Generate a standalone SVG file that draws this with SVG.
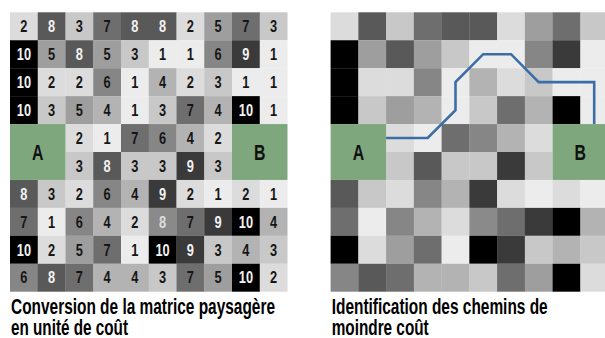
<svg xmlns="http://www.w3.org/2000/svg" xmlns:xlink="http://www.w3.org/1999/xlink" width="605" height="338" viewBox="0 0 605 338">
<style>
.c1{fill:#ececec}.c2{fill:#dcdcdc}.c3{fill:#c8c8c8}.c4{fill:#b3b3b3}.c5{fill:#9e9e9e}
.c6{fill:#868686}.c7{fill:#6e6e6e}.c8{fill:#595959}.c9{fill:#3a3a3a}.c10{fill:#000}.cx{fill:#8a8a8a}
.g{fill:#7ea77e}
text{font-family:"Liberation Sans",Arial,sans-serif;font-weight:bold}
.n,.w,.lw,.lab{text-anchor:middle;transform-box:fill-box;transform-origin:center;transform:scaleX(0.8)}
.n,.w,.lw{font-size:16px}
.n{fill:#161616}.w{fill:#f2f2f2}.lw{fill:#dedede}
.lab{font-size:22px;fill:#111;transform:scaleX(0.72)}
.cap{font-size:22px;fill:#000}
.path{fill:none;stroke:#3b6ea5;stroke-width:2.6;stroke-linejoin:miter}
</style>
<rect width="605" height="338" fill="#fff"/>
<g id="leftCells">
<g transform="translate(10,12.3)">
<!-- row 0 -->
<rect class="c2" x="0" y="0" width="28" height="28"/><rect class="c8" x="27.75" y="0" width="28" height="28"/><rect class="c3" x="55.5" y="0" width="28" height="28"/><rect class="c7" x="83.25" y="0" width="28" height="28"/><rect class="c8" x="111" y="0" width="28" height="28"/><rect class="c8" x="138.75" y="0" width="28" height="28"/><rect class="c2" x="166.5" y="0" width="28" height="28"/><rect class="c5" x="194.25" y="0" width="28" height="28"/><rect class="c7" x="222" y="0" width="28" height="28"/><rect class="c3" x="249.75" y="0" width="27.75" height="28"/>
<!-- row 1 -->
<rect class="c10" x="0" y="27.94" width="28" height="28"/><rect class="c5" x="27.75" y="27.94" width="28" height="28"/><rect class="c8" x="55.5" y="27.94" width="28" height="28"/><rect class="c5" x="83.25" y="27.94" width="28" height="28"/><rect class="c3" x="111" y="27.94" width="28" height="28"/><rect class="c1" x="138.75" y="27.94" width="28" height="28"/><rect class="c1" x="166.5" y="27.94" width="28" height="28"/><rect class="c6" x="194.25" y="27.94" width="28" height="28"/><rect class="c9" x="222" y="27.94" width="28" height="28"/><rect class="c1" x="249.75" y="27.94" width="27.75" height="28"/>
<!-- row 2 -->
<rect class="c10" x="0" y="55.88" width="28" height="28"/><rect class="c2" x="27.75" y="55.88" width="28" height="28"/><rect class="c2" x="55.5" y="55.88" width="28" height="28"/><rect class="c6" x="83.25" y="55.88" width="28" height="28"/><rect class="c1" x="111" y="55.88" width="28" height="28"/><rect class="c4" x="138.75" y="55.88" width="28" height="28"/><rect class="c2" x="166.5" y="55.88" width="28" height="28"/><rect class="c3" x="194.25" y="55.88" width="28" height="28"/><rect class="c1" x="222" y="55.88" width="28" height="28"/><rect class="c1" x="249.75" y="55.88" width="27.75" height="28"/>
<!-- row 3 -->
<rect class="c10" x="0" y="83.82" width="28" height="28"/><rect class="c3" x="27.75" y="83.82" width="28" height="28"/><rect class="c5" x="55.5" y="83.82" width="28" height="28"/><rect class="c4" x="83.25" y="83.82" width="28" height="28"/><rect class="c1" x="111" y="83.82" width="28" height="28"/><rect class="c3" x="138.75" y="83.82" width="28" height="28"/><rect class="c7" x="166.5" y="83.82" width="28" height="28"/><rect class="c4" x="194.25" y="83.82" width="28" height="28"/><rect class="c10" x="222" y="83.82" width="28" height="28"/><rect class="c1" x="249.75" y="83.82" width="27.75" height="28"/>
<!-- row 4 -->
<rect class="c2" x="55.5" y="111.76" width="28" height="28"/><rect class="c1" x="83.25" y="111.76" width="28" height="28"/><rect class="c7" x="111" y="111.76" width="28" height="28"/><rect class="c6" x="138.75" y="111.76" width="28" height="28"/><rect class="c4" x="166.5" y="111.76" width="28" height="28"/><rect class="c2" x="194.25" y="111.76" width="27.75" height="28"/>
<!-- row 5 -->
<rect class="c3" x="55.5" y="139.7" width="28" height="28"/><rect class="c8" x="83.25" y="139.7" width="28" height="28"/><rect class="c3" x="111" y="139.7" width="28" height="28"/><rect class="c3" x="138.75" y="139.7" width="28" height="28"/><rect class="c9" x="166.5" y="139.7" width="28" height="28"/><rect class="c3" x="194.25" y="139.7" width="27.75" height="28"/>
<!-- row 6 -->
<rect class="c8" x="0" y="167.64" width="28" height="28"/><rect class="c3" x="27.75" y="167.64" width="28" height="28"/><rect class="c2" x="55.5" y="167.64" width="28" height="28"/><rect class="c6" x="83.25" y="167.64" width="28" height="28"/><rect class="c4" x="111" y="167.64" width="28" height="28"/><rect class="c9" x="138.75" y="167.64" width="28" height="28"/><rect class="c2" x="166.5" y="167.64" width="28" height="28"/><rect class="c1" x="194.25" y="167.64" width="28" height="28"/><rect class="c2" x="222" y="167.64" width="28" height="28"/><rect class="c1" x="249.75" y="167.64" width="27.75" height="28"/>
<!-- row 7 -->
<rect class="c7" x="0" y="195.58" width="28" height="28"/><rect class="c1" x="27.75" y="195.58" width="28" height="28"/><rect class="c6" x="55.5" y="195.58" width="28" height="28"/><rect class="c4" x="83.25" y="195.58" width="28" height="28"/><rect class="c2" x="111" y="195.58" width="28" height="28"/><rect class="cx" x="138.75" y="195.58" width="28" height="28"/><rect class="c7" x="166.5" y="195.58" width="28" height="28"/><rect class="c9" x="194.25" y="195.58" width="28" height="28"/><rect class="c10" x="222" y="195.58" width="28" height="28"/><rect class="c4" x="249.75" y="195.58" width="27.75" height="28"/>
<!-- row 8 -->
<rect class="c10" x="0" y="223.52" width="28" height="28"/><rect class="c2" x="27.75" y="223.52" width="28" height="28"/><rect class="c5" x="55.5" y="223.52" width="28" height="28"/><rect class="c7" x="83.25" y="223.52" width="28" height="28"/><rect class="c1" x="111" y="223.52" width="28" height="28"/><rect class="c10" x="138.75" y="223.52" width="28" height="28"/><rect class="c9" x="166.5" y="223.52" width="28" height="28"/><rect class="c3" x="194.25" y="223.52" width="28" height="28"/><rect class="c4" x="222" y="223.52" width="28" height="28"/><rect class="c3" x="249.75" y="223.52" width="27.75" height="28"/>
<!-- row 9 -->
<rect class="c6" x="0" y="251.46" width="28" height="27.94"/><rect class="c8" x="27.75" y="251.46" width="28" height="27.94"/><rect class="c7" x="55.5" y="251.46" width="28" height="27.94"/><rect class="c4" x="83.25" y="251.46" width="28" height="27.94"/><rect class="c4" x="111" y="251.46" width="28" height="27.94"/><rect class="c3" x="138.75" y="251.46" width="28" height="27.94"/><rect class="c7" x="166.5" y="251.46" width="28" height="27.94"/><rect class="c5" x="194.25" y="251.46" width="28" height="27.94"/><rect class="c10" x="222" y="251.46" width="28" height="27.94"/><rect class="c2" x="249.75" y="251.46" width="27.75" height="27.94"/>
</g>
</g>
<g id="rightCells">
<use xlink:href="#leftCells" href="#leftCells" x="320.6" y="0"/>
</g>
<g id="leftNumbers">
<text class="n" x="23.9" y="32.1">2</text><text class="w" x="51.6" y="32.1">8</text><text class="n" x="79.4" y="32.1">3</text><text class="n" x="107.1" y="32.1">7</text><text class="w" x="134.9" y="32.1">8</text><text class="w" x="162.6" y="32.1">8</text><text class="n" x="190.4" y="32.1">2</text><text class="n" x="218.1" y="32.1">5</text><text class="n" x="245.9" y="32.1">7</text><text class="n" x="273.6" y="32.1">3</text>
<text class="w" x="23.9" y="60">10</text><text class="n" x="51.6" y="60">5</text><text class="w" x="79.4" y="60">8</text><text class="n" x="107.1" y="60">5</text><text class="n" x="134.9" y="60">3</text><text class="n" x="162.6" y="60">1</text><text class="n" x="190.4" y="60">1</text><text class="n" x="218.1" y="60">6</text><text class="w" x="245.9" y="60">9</text><text class="n" x="273.6" y="60">1</text>
<text class="w" x="23.9" y="88">10</text><text class="n" x="51.6" y="88">2</text><text class="n" x="79.4" y="88">2</text><text class="n" x="107.1" y="88">6</text><text class="n" x="134.9" y="88">1</text><text class="n" x="162.6" y="88">4</text><text class="n" x="190.4" y="88">2</text><text class="n" x="218.1" y="88">3</text><text class="n" x="245.9" y="88">1</text><text class="n" x="273.6" y="88">1</text>
<text class="w" x="23.9" y="115.9">10</text><text class="n" x="51.6" y="115.9">3</text><text class="n" x="79.4" y="115.9">5</text><text class="n" x="107.1" y="115.9">4</text><text class="n" x="134.9" y="115.9">1</text><text class="n" x="162.6" y="115.9">3</text><text class="n" x="190.4" y="115.9">7</text><text class="n" x="218.1" y="115.9">4</text><text class="w" x="245.9" y="115.9">10</text><text class="n" x="273.6" y="115.9">1</text>
<text class="n" x="79.4" y="143.8">2</text><text class="n" x="107.1" y="143.8">1</text><text class="n" x="134.9" y="143.8">7</text><text class="n" x="162.6" y="143.8">6</text><text class="n" x="190.4" y="143.8">4</text><text class="n" x="218.1" y="143.8">2</text>
<text class="n" x="79.4" y="171.8">3</text><text class="w" x="107.1" y="171.8">8</text><text class="n" x="134.9" y="171.8">3</text><text class="n" x="162.6" y="171.8">3</text><text class="w" x="190.4" y="171.8">9</text><text class="n" x="218.1" y="171.8">3</text>
<text class="w" x="23.9" y="199.7">8</text><text class="n" x="51.6" y="199.7">3</text><text class="n" x="79.4" y="199.7">2</text><text class="n" x="107.1" y="199.7">6</text><text class="n" x="134.9" y="199.7">4</text><text class="w" x="162.6" y="199.7">9</text><text class="n" x="190.4" y="199.7">2</text><text class="n" x="218.1" y="199.7">1</text><text class="n" x="245.9" y="199.7">2</text><text class="n" x="273.6" y="199.7">1</text>
<text class="n" x="23.9" y="227.7">7</text><text class="n" x="51.6" y="227.7">1</text><text class="n" x="79.4" y="227.7">6</text><text class="n" x="107.1" y="227.7">4</text><text class="n" x="134.9" y="227.7">2</text><text class="lw" x="162.6" y="227.7">8</text><text class="n" x="190.4" y="227.7">7</text><text class="w" x="218.1" y="227.7">9</text><text class="w" x="245.9" y="227.7">10</text><text class="n" x="273.6" y="227.7">4</text>
<text class="w" x="23.9" y="255.6">10</text><text class="n" x="51.6" y="255.6">2</text><text class="n" x="79.4" y="255.6">5</text><text class="n" x="107.1" y="255.6">7</text><text class="n" x="134.9" y="255.6">1</text><text class="w" x="162.6" y="255.6">10</text><text class="w" x="190.4" y="255.6">9</text><text class="n" x="218.1" y="255.6">3</text><text class="n" x="245.9" y="255.6">4</text><text class="n" x="273.6" y="255.6">3</text>
<text class="n" x="23.9" y="283.5">6</text><text class="w" x="51.6" y="283.5">8</text><text class="n" x="79.4" y="283.5">7</text><text class="n" x="107.1" y="283.5">4</text><text class="n" x="134.9" y="283.5">4</text><text class="n" x="162.6" y="283.5">3</text><text class="n" x="190.4" y="283.5">7</text><text class="n" x="218.1" y="283.5">5</text><text class="w" x="245.9" y="283.5">10</text><text class="n" x="273.6" y="283.5">2</text>
</g>
<g id="nodeA-left"><rect class="g" x="10" y="124.06" width="55.5" height="55.88"/><text class="lab" x="37.75" y="159.8">A</text></g>
<g id="nodeB-left"><rect class="g" x="232" y="124.06" width="55.5" height="55.88"/><text class="lab" x="259.75" y="159.8">B</text></g>
<g id="nodeA-right"><rect class="g" x="330.6" y="124.06" width="55.5" height="55.88"/><text class="lab" x="358.35" y="159.8">A</text></g>
<g id="nodeB-right"><rect class="g" x="552.6" y="124.06" width="55.5" height="55.88"/><text class="lab" x="580.35" y="159.8">B</text></g>
<g id="connectors">
<path class="path" d="M386.1,138 H427.7 L455.5,110.1 V82.15 L483.2,54.2 H511 L538.7,82.15 H594.2 V124.06"/>
</g>
<g id="captions">
<text class="cap" x="11" y="314" textLength="264" lengthAdjust="spacingAndGlyphs">Conversion de la matrice paysagère</text>
<text class="cap" x="11" y="334.5" textLength="117" lengthAdjust="spacingAndGlyphs">en unité de coût</text>
<text class="cap" x="331.7" y="314" textLength="216" lengthAdjust="spacingAndGlyphs">Identification des chemins de</text>
<text class="cap" x="331.7" y="334.5" textLength="97" lengthAdjust="spacingAndGlyphs">moindre coût</text>
</g>
</svg>
